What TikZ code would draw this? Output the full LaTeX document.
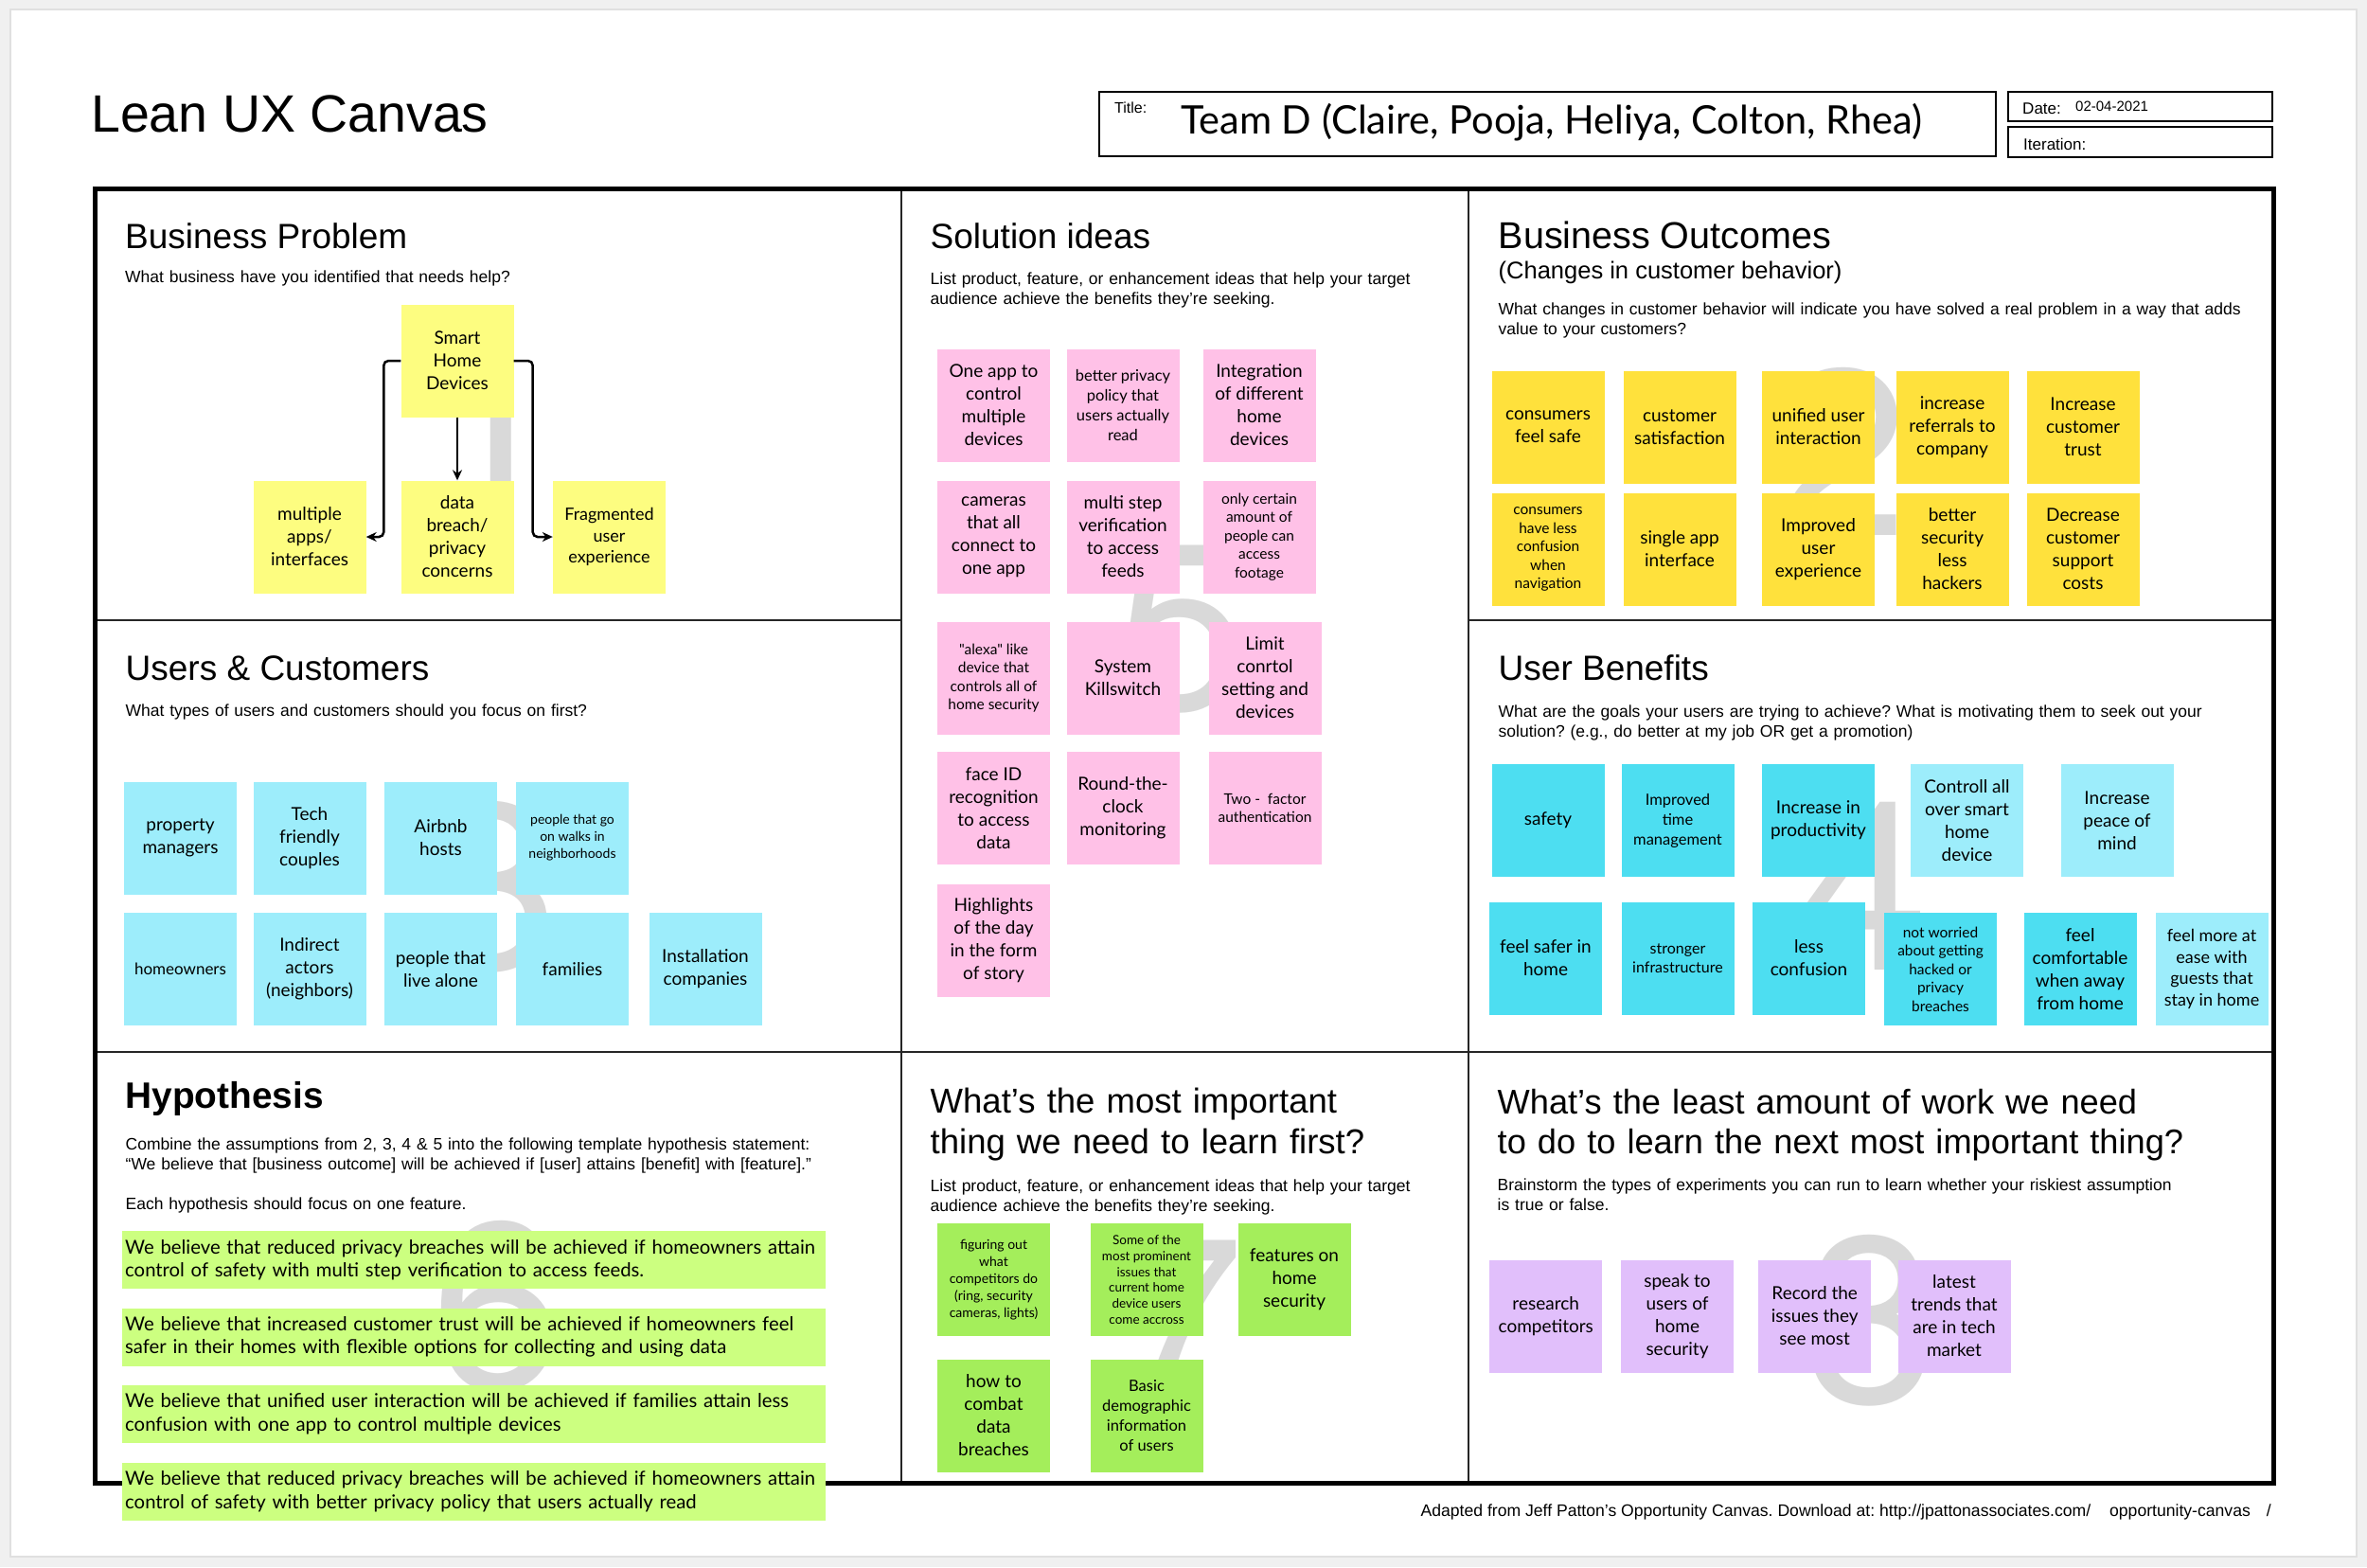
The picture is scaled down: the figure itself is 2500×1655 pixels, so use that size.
\documentclass[tikz,border=0pt]{standalone}
\usepackage{fontspec}
\setmainfont{Liberation Sans}
\newfontfamily\notefont{Lato}
\newfontfamily\numfont{TeX Gyre Heros}
\usepackage{xcolor}
\usepackage{tikz}
\usetikzlibrary{arrows.meta}
\definecolor{probyellow}{HTML}{FDFD80}
\definecolor{outyellow}{HTML}{FFE13C}
\definecolor{ideapink}{HTML}{FFC1E7}
\definecolor{userblue}{HTML}{9DEDFB}
\definecolor{benefitblue}{HTML}{4DDEF1}
\definecolor{hypgreen}{HTML}{CCFF80}
\definecolor{learngreen}{HTML}{A4EE5B}
\definecolor{testlilac}{HTML}{E1BFFB}
\definecolor{numgray}{HTML}{D9D9D9}
\definecolor{pagegray}{HTML}{F0F0F0}
\tikzstyle{note} = [rectangle, minimum width=119, minimum height=119, inner sep=2, align=center, font=\notefont\fontsize{19}{24}\selectfont]
\tikzstyle{txtm} = [font=\notefont\fontsize{16.5}{21}\selectfont]
\tikzstyle{txts} = [font=\notefont\fontsize{15.5}{19.5}\selectfont]
\tikzstyle{txtxs} = [font=\notefont\fontsize{14}{18}\selectfont]
\tikzstyle{txtxxs} = [font=\notefont\fontsize{13.5}{16.7}\selectfont]
\tikzstyle{problem} = [note, fill=probyellow]
\tikzstyle{outcome} = [note, fill=outyellow]
\tikzstyle{idea} = [note, fill=ideapink]
\tikzstyle{user} = [note, fill=userblue]
\tikzstyle{benefit} = [note, fill=benefitblue]
\tikzstyle{learn} = [note, fill=learngreen]
\tikzstyle{experiment} = [note, fill=testlilac]
\tikzstyle{hyp} = [rectangle, fill=hypgreen, anchor=west, minimum width=743, minimum height=61, text width=737, inner xsep=3, inner ysep=0, align=left, font=\notefont\fontsize{20.3}{24.5}\selectfont]
\tikzstyle{head} = [anchor=base west, inner sep=0, font=\fontsize{37}{43}\selectfont]
\tikzstyle{prompt} = [anchor=base west, inner sep=0, text width=900, align=left, font=\fontsize{17.5}{21}\selectfont]
\tikzstyle{tag} = [anchor=base west, inner sep=0, font=\fontsize{17}{20}\selectfont]
\tikzstyle{field} = [rectangle, draw=black, line width=2, inner sep=0]
\tikzstyle{bignum} = [inner sep=0, text=numgray, font=\numfont\fontsize{250}{250}\selectfont]
\tikzstyle{arrow} = [line width=2.5, -{Stealth[length=11, width=10]}, rounded corners=5]

\begin{document}
\frenchspacing
\begin{tikzpicture}[x=1pt, y=-1pt]
\useasboundingbox (0,0) rectangle (2500,1655);
\fill[pagegray] (0,0) rectangle (2500,1655);
\filldraw[fill=white, draw=black!12, line width=1.5] (11,10) rectangle (2489,1644);

% header
\node (lean) [anchor=base west, inner sep=0, font=\fontsize{55.5}{60}\selectfont] at (96,139.5) {Lean UX Canvas};
\node (titlebox) [field, minimum width=947, minimum height=68] at (1634.5,131) {};
\node (titlelbl) [tag, font=\fontsize{16}{18}\selectfont] at (1177,119) {Title:};
\node (team) [anchor=base west, inner sep=0, font=\notefont\fontsize{41.5}{44}\selectfont] at (1247,141.5) {Team D (Claire, Pooja, Heliya, Colton, Rhea)};
\node (datebox) [field, minimum width=279, minimum height=31.5] at (2260,112.5) {};
\node (datelbl) [tag] at (2136,120) {Date:};
\node (dateval) [tag, font=\fontsize{15}{18}\selectfont] at (2192,117) {02-04-2021};
\node (iterbox) [field, minimum width=279, minimum height=31.5] at (2260,150) {};
\node (iterlbl) [tag] at (2137,158) {Iteration:};

% canvas grid
\draw[line width=2, black!85] (952,199) -- (952,1566) (1551,199) -- (1551,1566) (100,655) -- (952,655) (1551,655) -- (2401,655) (100,1111) -- (2401,1111);
\draw[line width=5] (100,199) rectangle (2401,1566);

% section numbers
\node (d1) [bignum] at (522.5,474) {1};
\node (d2) [bignum] at (1946,477) {2};
\node (d3) [bignum] at (521,937) {3};
\node (d4) [bignum] at (1968,936) {4};
\node (d5) [bignum] at (1248,665) {5};
\node (d6) [bignum] at (525,1380) {6};
\node (d7) [bignum] at (1245,1397) {7};
\node (d8) [bignum] at (1975,1395) {8};

% section titles
\node (bphead) [head] at (132,262) {Business Problem};
\node (bpask) [prompt] at (132,298) {What business have you identified that needs help?};
\node (solhead) [head] at (982.5,262) {Solution ideas};
\node (solask) [prompt] at (982.5,300) {List product, feature, or enhancement ideas that help your target\\audience achieve the benefits they’re seeking.};
\node (bohead) [head, font=\fontsize{39.5}{45}\selectfont] at (1582.5,262) {Business Outcomes};
\node (bosub) [anchor=base west, inner sep=0, font=\fontsize{25.5}{30}\selectfont] at (1582.5,294) {(Changes in customer behavior)};
\node (boask) [prompt] at (1582.5,332) {What changes in customer behavior will indicate you have solved a real problem in a way that adds\\value to your customers?};
\node (uchead) [head] at (132.5,718) {Users \& Customers};
\node (ucask) [prompt] at (132.5,756) {What types of users and customers should you focus on first?};
\node (ubhead) [head] at (1582.5,718) {User Benefits};
\node (ubask) [prompt] at (1582.5,757) {What are the goals your users are trying to achieve? What is motivating them to seek out your\\solution? (e.g., do better at my job OR get a promotion)};
\node (hyphead) [head, font=\bfseries\fontsize{38.8}{44}\selectfont] at (132.5,1170) {Hypothesis};
\node (hypask) [prompt] at (132.5,1214) {Combine the assumptions from 2, 3, 4 \& 5 into the following template hypothesis statement:\\“We believe that [business outcome] will be achieved if [user] attains [benefit] with [feature].”\\[21pt]Each hypothesis should focus on one feature.};
\node (learnhead) [head, text width=900, align=left, font=\fontsize{36.5}{43}\selectfont] at (982.5,1175) {What’s the most important\\thing we need to learn first?};
\node (learnask) [prompt] at (982.5,1258) {List product, feature, or enhancement ideas that help your target\\audience achieve the benefits they’re seeking.};
\node (leasthead) [head, text width=900, align=left, font=\fontsize{36.2}{42.6}\selectfont] at (1581.5,1176) {What’s the least amount of work we need\\to do to learn the next most important thing?};
\node (leastask) [prompt] at (1581.5,1257.5) {Brainstorm the types of experiments you can run to learn whether your riskiest assumption\\is true or false.};

% business problem
\node (smart) [problem] at (483,381) {Smart\\Home\\Devices};
\node (apps) [problem] at (327,567) {multiple\\apps/\\interfaces};
\node (breach) [problem] at (483,567) {data\\breach/\\privacy\\concerns};
\node (frag) [problem, font=\notefont\fontsize{18}{22.7}\selectfont] at (643.5,567) {Fragmented\\user\\experience};

\draw [arrow] (smart.west) -- ++(-18,0) |- (apps.east);
\draw [arrow] (smart.south) -- (breach.north);
\draw [arrow] (smart.east) -- ++(20,0) |- (frag.west);

% solution ideas
\node (oneapp) [idea] at (1049.5,428) {One app to\\control\\multiple\\devices};
\node (policy) [idea, txtm] at (1186,428) {better privacy\\policy that\\users actually\\read};
\node (integrate) [idea] at (1330,428) {Integration\\of different\\home\\devices};
\node (cameras) [idea] at (1049.5,567) {cameras\\that all\\connect to\\one app};
\node (multistep) [idea] at (1186,567) {multi step\\verification\\to access\\feeds};
\node (footage) [idea, txts] at (1330,567) {only certain\\amount of\\people can\\access\\footage};
\node (alexa) [idea, txts] at (1049.5,716) {"alexa" like\\device that\\controls all of\\home security};
\node (kill) [idea] at (1186,716) {System\\Killswitch};
\node (limit) [idea] at (1336,716) {Limit\\conrtol\\setting and\\devices};
\node (faceid) [idea] at (1049.5,853.5) {face ID\\recognition\\to access\\data};
\node (clock) [idea] at (1186,853.5) {Round-the-\\clock\\monitoring};
\node (twofactor) [idea, txts] at (1336,853.5) {Two -\ \ factor\\authentication};
\node (story) [idea] at (1049.5,993.5) {Highlights\\of the day\\in the form\\of story};

% business outcomes
\node (safe) [outcome] at (1635,451) {consumers\\feel safe};
\node (satisfy) [outcome] at (1774,451) {customer\\satisfaction};
\node (unified) [outcome] at (1920.5,451) {unified user\\interaction};
\node (referral) [outcome] at (2062,451) {increase\\referrals to\\company};
\node (trust) [outcome] at (2200,451) {Increase\\customer\\trust};
\node (lessconf) [outcome, txts] at (1635,580) {consumers\\have less\\confusion\\when\\navigation};
\node (single) [outcome] at (1774,580) {single app\\interface};
\node (improved) [outcome] at (1920.5,580) {Improved\\user\\experience};
\node (security) [outcome] at (2062,580) {better\\security\\less\\hackers};
\node (support) [outcome] at (2200,580) {Decrease\\customer\\support\\costs};

% users and customers
\node (property) [user] at (190.5,885) {property\\managers};
\node (couples) [user] at (327,885) {Tech\\friendly\\couples};
\node (airbnb) [user] at (465.5,885) {Airbnb\\hosts};
\node (walkers) [user, txtxs] at (604.5,885) {people that go\\on walks in\\neighborhoods};
\node (owners) [user, font=\notefont\fontsize{17}{21}\selectfont] at (190.5,1023.5) {homeowners};
\node (neighbors) [user] at (327,1023.5) {Indirect\\actors\\(neighbors)};
\node (alone) [user] at (465.5,1023.5) {people that\\live alone};
\node (families) [user] at (604.5,1023.5) {families};
\node (installers) [user] at (745,1023.5) {Installation\\companies};

% user benefits
\node (safety) [benefit] at (1635,866.5) {safety};
\node (timemgmt) [benefit, txtm] at (1772,866.5) {Improved\\time\\management};
\node (product) [benefit] at (1920.5,866.5) {Increase in\\productivity};
\node (control) [user] at (2077.5,866.5) {Controll all\\over smart\\home\\device};
\node (peace) [user] at (2236,866.5) {Increase\\peace of\\mind};
\node (safer) [benefit] at (1632.5,1012) {feel safer in\\home};
\node (infra) [benefit, font=\notefont\fontsize{16}{20}\selectfont] at (1772,1012) {stronger\\infrastructure};
\node (confusion) [benefit] at (1910.5,1012) {less\\confusion};
\node (worried) [benefit, txts] at (2049.5,1023.5) {not worried\\about getting\\hacked or\\privacy\\breaches};
\node (away) [benefit] at (2197,1023.5) {feel\\comfortable\\when away\\from home};
\node (guests) [user, font=\notefont\fontsize{18}{22.7}\selectfont] at (2336,1023.5) {feel more at\\ease with\\guests that\\stay in home};

% hypotheses
\node (hyp1) [hyp] at (129,1330.5) {We believe that reduced privacy breaches will be achieved if homeowners attain\\control of safety with multi step verification to access feeds.};
\node (hyp2) [hyp] at (129,1412) {We believe that increased customer trust will be achieved if homeowners feel\\safer in their homes with flexible options for collecting and using data};
\node (hyp3) [hyp] at (129,1493) {We believe that unified user interaction will be achieved if families attain less\\confusion with one app to control multiple devices};
\node (hyp4) [hyp] at (129,1575) {We believe that reduced privacy breaches will be achieved if homeowners attain\\control of safety with better privacy policy that users actually read};

% learn first
\node (rivals) [learn, txtxs] at (1049.5,1351.5) {figuring out\\what\\competitors do\\(ring, security\\cameras, lights)};
\node (issues) [learn, txtxxs] at (1211,1351.5) {Some of the\\most prominent\\issues that\\current home\\device users\\come accross};
\node (features) [learn] at (1367,1351.5) {features on\\home\\security};
\node (combat) [learn] at (1049.5,1495) {how to\\combat\\data\\breaches};
\node (demo) [learn, txtm] at (1211,1495) {Basic\\demographic\\information\\of users};

% least work
\node (research) [experiment] at (1632.7,1390) {research\\competitors};
\node (speak) [experiment] at (1771.5,1390) {speak to\\users of\\home\\security};
\node (record) [experiment] at (1916.7,1390) {Record the\\issues they\\see most};
\node (trends) [experiment] at (2064,1390) {latest\\trends that\\are in tech\\market};

\node (credit) [anchor=base east, inner sep=0, font=\fontsize{17.6}{20}\selectfont] at (2399,1601) {Adapted from Jeff Patton’s Opportunity Canvas. Download at: http://jpattonassociates.com/\hspace{20pt}opportunity-canvas\hspace{17pt}/};

\end{tikzpicture}
\end{document}
